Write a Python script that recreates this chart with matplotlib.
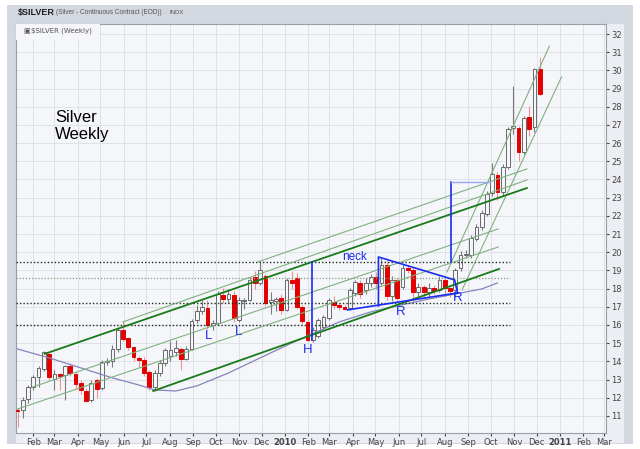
import numpy as np
import pandas as pd
import matplotlib
matplotlib.use("Agg")
import matplotlib.pyplot as plt
import matplotlib.dates as mdates
from matplotlib.patches import Rectangle

# weekly candles for $SILVER, one row per week
weeks = pd.date_range("2009-01-11", periods=100, freq="7D")
opens = [11.35, 11.3, 11.95, 12.6, 13.15, 13.6, 14.4, 13.05, 13.3, 13.25,
         13.75, 13.3, 12.8, 12.35, 11.85, 13.0, 12.55, 13.95, 14.0, 14.7,
         15.75, 15.3, 14.8, 14.2, 14.1, 13.4, 12.6, 13.35, 13.9, 14.3,
         14.5, 14.7, 14.15, 14.7, 16.25, 16.75, 16.95, 16.0, 16.1, 17.65,
         17.45, 17.65, 16.3, 17.3, 17.4, 18.65, 18.3, 18.7, 17.25, 17.3,
         17.5, 16.85, 18.45, 18.6, 17.0, 16.15, 15.2, 15.4, 15.9, 16.4,
         17.27, 17.1, 17.0, 16.95, 17.76, 18.31, 17.9, 18.31, 18.64, 18.3,
         19.3, 17.6, 18.45, 18.1, 19.15, 19.0, 17.8, 18.1, 17.8, 18.05,
         17.9, 18.48, 18.04, 17.9, 19.14, 19.85, 19.85, 20.73, 21.4, 22.1,
         23.26, 24.25, 23.3, 24.7, 26.85, 26.85, 25.5, 27.45, 26.9, 30.1]
highs = [11.45, 12.05, 12.7, 13.25, 13.75, 14.55, 14.5, 13.5, 13.35, 13.8,
         13.9, 13.4, 13.0, 12.55, 12.95, 13.1, 14.1, 14.2, 14.9, 15.85,
         16.2, 15.35, 14.85, 14.3, 14.25, 13.5, 13.5, 14.05, 14.75, 15.1,
         15.15, 14.8, 14.85, 16.35, 17.1, 17.4, 17.35, 16.3, 17.85, 18.05,
         18.0, 17.85, 17.55, 17.5, 18.65, 18.95, 19.5, 18.8, 17.8, 17.55,
         17.7, 18.6, 18.95, 18.85, 17.1, 16.3, 15.9, 16.4, 16.55, 17.5,
         17.6, 17.2, 17.1, 18.05, 18.5, 18.5, 18.6, 18.8, 18.9, 19.7,
         19.5, 18.7, 18.6, 19.3, 19.3, 19.2, 18.3, 18.2, 18.3, 18.2,
         18.7, 18.6, 18.1, 19.15, 20.05, 20.1, 20.95, 21.55, 22.3, 23.35,
         24.9, 24.4, 24.85, 26.9, 29.15, 26.95, 27.5, 28.05, 30.15, 30.75]
lows = [10.4, 10.9, 11.7, 12.45, 12.6, 13.45, 13.0, 12.4, 12.45, 11.9,
        13.2, 12.5, 12.2, 11.75, 11.75, 12.0, 12.45, 13.8, 13.7, 14.5,
        15.1, 14.6, 14.0, 13.7, 13.2, 12.45, 12.35, 13.2, 13.75, 14.0,
        14.3, 13.55, 14.05, 14.6, 16.1, 16.6, 15.8, 15.7, 16.0, 17.2,
        17.2, 16.15, 16.15, 16.9, 17.3, 18.0, 18.2, 17.05, 16.6, 16.75,
        16.6, 16.75, 18.0, 16.9, 16.05, 15.05, 15.05, 15.3, 15.8, 16.3,
        16.9, 16.8, 16.8, 16.85, 17.6, 17.5, 17.7, 18.1, 18.0, 18.2,
        17.4, 17.3, 17.3, 18.0, 18.85, 17.3, 17.6, 17.5, 17.5, 17.7,
        17.8, 17.6, 17.55, 17.55, 18.95, 19.7, 19.7, 20.6, 21.2, 22.0,
        23.1, 22.87, 23.1, 24.6, 26.5, 25.0, 25.4, 26.4, 26.6, 28.65]
closes = [11.25, 11.9, 12.6, 13.15, 13.65, 14.5, 13.15, 13.3, 13.2, 13.75,
          13.35, 12.75, 12.4, 11.8, 12.8, 12.5, 13.95, 14.0, 14.7, 15.75,
          15.25, 14.8, 14.25, 14.05, 13.35, 12.6, 13.35, 13.9, 14.6, 14.6,
          14.75, 14.15, 14.7, 16.2, 16.75, 17.0, 16.0, 16.1, 17.7, 17.45,
          17.7, 16.4, 17.35, 17.4, 18.45, 18.3, 19.0, 17.2, 17.4, 17.45,
          16.85, 18.45, 18.3, 17.0, 16.2, 15.2, 15.75, 16.3, 16.45, 17.38,
          17.1, 17.0, 16.88, 17.93, 18.37, 17.7, 18.3, 18.64, 18.31, 19.3,
          17.6, 18.45, 17.5, 19.15, 19.0, 17.8, 18.1, 17.8, 18.05, 17.85,
          18.48, 18.04, 17.85, 19.0, 19.85, 19.9, 20.8, 21.4, 22.16, 23.2,
          24.3, 23.3, 24.7, 26.8, 26.95, 25.5, 27.4, 26.8, 30.1, 28.7]

# moving average read at a few weeks
ma_weeks = [0, 6, 12, 18, 23, 26, 30, 34, 40, 46, 52, 55, 61, 67, 72, 78, 84, 88, 91]
ma_values = [14.68, 14.19, 13.64, 13.09, 12.7, 12.43, 12.37, 12.65, 13.36, 14.19,
             15.01, 15.4, 16.17, 16.72, 17.05, 17.43, 17.76, 17.98, 18.31]

# annotations drawn on the chart
thick_lines = [(("2009-02-16", 14.41), ("2010-11-18", 23.53)),
               (("2009-07-10", 12.37), ("2010-10-12", 19.08))]
thin_lines = [(("2009-01-11", 11.38), ("2010-10-11", 20.29)),
              (("2009-01-31", 12.59), ("2010-10-11", 21.28)),
              (("2009-05-31", 16.17), ("2010-11-18", 23.97)),
              (("2009-11-26", 19.47), ("2010-11-18", 24.58)),
              (("2010-08-04", 18.92), ("2010-12-18", 31.34)),
              (("2010-08-24", 17.93), ("2011-01-03", 29.64))]
dark_levels = [19.47, 17.21, 16.0]
light_levels = [18.59]
level_span = ("2009-01-09", "2010-10-26")
blue_paths = [[("2010-02-06", 19.47), ("2010-02-06", 15.18)],
              [("2010-03-25", 16.83), ("2010-08-18", 17.76)],
              [("2010-05-05", 17.05), ("2010-05-05", 19.74), ("2010-08-14", 18.48),
               ("2010-08-18", 17.76)],
              [("2010-08-09", 19.47), ("2010-08-09", 23.86)]]
target_line = [("2010-08-09", 23.86), ("2010-09-30", 23.86)]
labels = [("L", "2009-09-21", 15.4), ("L", "2009-10-31", 15.62), ("H", "2010-01-31", 14.63),
          ("R", "2010-06-04", 16.72), ("R", "2010-08-18", 17.49), ("neck", "2010-04-03", 19.74)]

y_ticks = list(range(11, 33))
months = pd.date_range("2009-02-01", "2011-03-01", freq="MS")

bg = "#f5f6fa"
W, H = 640, 449
fig = plt.figure(figsize=(6.4, 4.49), dpi=100)
fig.patches.append(Rectangle((7 / W, 1 - 444 / H), 626 / W, 439 / H, transform=fig.transFigure,
                             facecolor="#d3d7df", edgecolor="none", zorder=-10))
fig.patches.append(Rectangle((16 / W, 1 - 443 / H), 608 / W, 419 / H, transform=fig.transFigure,
                             facecolor="#eceef3", edgecolor="none", zorder=-9))

ax = fig.add_axes([16 / W, 1 - 433 / H, 590 / W, 409 / H])
ax.set_facecolor(bg)

d = lambda s: mdates.date2num(pd.Timestamp(s))
x = mdates.date2num(weeks)

# candles
for xi, o, h, l, c in zip(x, opens, highs, lows, closes):
    down = c < o
    ax.vlines(xi, l, h, color="#f09090" if down else "#7a7a7a", lw=0.8, zorder=3)
    ax.bar(xi, max(abs(c - o), 0.05), bottom=min(o, c), width=5,
           color="#e40000" if down else bg, edgecolor="#e40000" if down else "#6a6a6a",
           lw=0.7, zorder=3)

# moving average
ax.plot(x[ma_weeks], ma_values, color="#8484bc", lw=0.9, zorder=4)

# horizontal levels
for lv in dark_levels:
    ax.plot([d(level_span[0]), d(level_span[1])], [lv, lv], color="#1c2e1c", lw=1.0,
            ls=(0, (1, 1.5)), zorder=4)
for lv in light_levels:
    ax.plot([d(level_span[0]), d(level_span[1])], [lv, lv], color="#7e9e7e", lw=0.9,
            ls=(0, (1, 1.5)), zorder=4)

# channel lines
for a, b in thin_lines:
    ax.plot([d(a[0]), d(b[0])], [a[1], b[1]], color="#80b080", lw=0.8, zorder=4)
for a, b in thick_lines:
    ax.plot([d(a[0]), d(b[0])], [a[1], b[1]], color="#187a18", lw=1.3, zorder=4)

# pattern marks
for path in blue_paths:
    ax.plot([d(p[0]) for p in path], [p[1] for p in path], color="#1a2cf0", lw=1.2, zorder=5)
ax.plot([d(p[0]) for p in target_line], [p[1] for p in target_line], color="#9aa6f4",
        lw=1.0, zorder=5)
for txt, dt, pr in labels:
    ax.text(d(dt), pr, txt, color="#1a2cf0", fontsize=8.5 if txt == "neck" else 9.5,
            ha="center", va="center", family="Liberation Sans", zorder=6)

ax.set_xlim(d("2009-01-09"), d("2011-03-03"))
ax.set_ylim(10.06, 32.55)

ax.set_xticks(mdates.date2num(months))
ax.set_xticklabels([str(m.year) if m.month == 1 else m.strftime("%b") for m in months])
for t, m in zip(ax.get_xticklabels(), months):
    if m.month == 1:
        t.set_fontweight("bold")
ax.set_yticks(y_ticks)
ax.yaxis.tick_right()
ax.tick_params(axis="both", labelsize=6, colors="#444444", length=2, pad=1.5)
ax.tick_params(axis="y", pad=2)
ax.grid(True, color="#dfe1e8", lw=0.7, zorder=0)
ax.set_axisbelow(True)
for s in ax.spines.values():
    s.set_color("#9a9ea8")
    s.set_linewidth(0.8)

# legend box and texts
ax.add_patch(Rectangle((0, 1 - 16 / 409), 84 / 590, 16 / 409, transform=ax.transAxes,
                       facecolor=bg, edgecolor="none", zorder=6))
fig.text(23 / W, 1 - 31 / H, "\u25a3", fontsize=5, color="#555555", va="center")
fig.text(31 / W, 1 - 31 / H, r"\$SILVER (Weekly)", fontsize=5, color="#555555", va="center")
fig.text(18 / W, 1 - 13 / H, r"\$SILVER", fontsize=6.5, fontweight="bold", va="center",
         family="Liberation Sans", color="#222222")
fig.text(56 / W, 1 - 13 / H, "(Silver - Continuous Contract (EOD))", fontsize=4.7, va="center",
         family="Liberation Sans", color="#555555")
fig.text(169 / W, 1 - 13 / H, "INDX", fontsize=4.3, va="center",
         family="Liberation Sans", color="#555555")
fig.text(55 / W, 1 - 117 / H, "Silver", fontsize=12, va="center", family="Liberation Sans")
fig.text(55 / W, 1 - 134 / H, "Weekly", fontsize=12, va="center", family="Liberation Sans")

fig.savefig("out.png", dpi=100)
